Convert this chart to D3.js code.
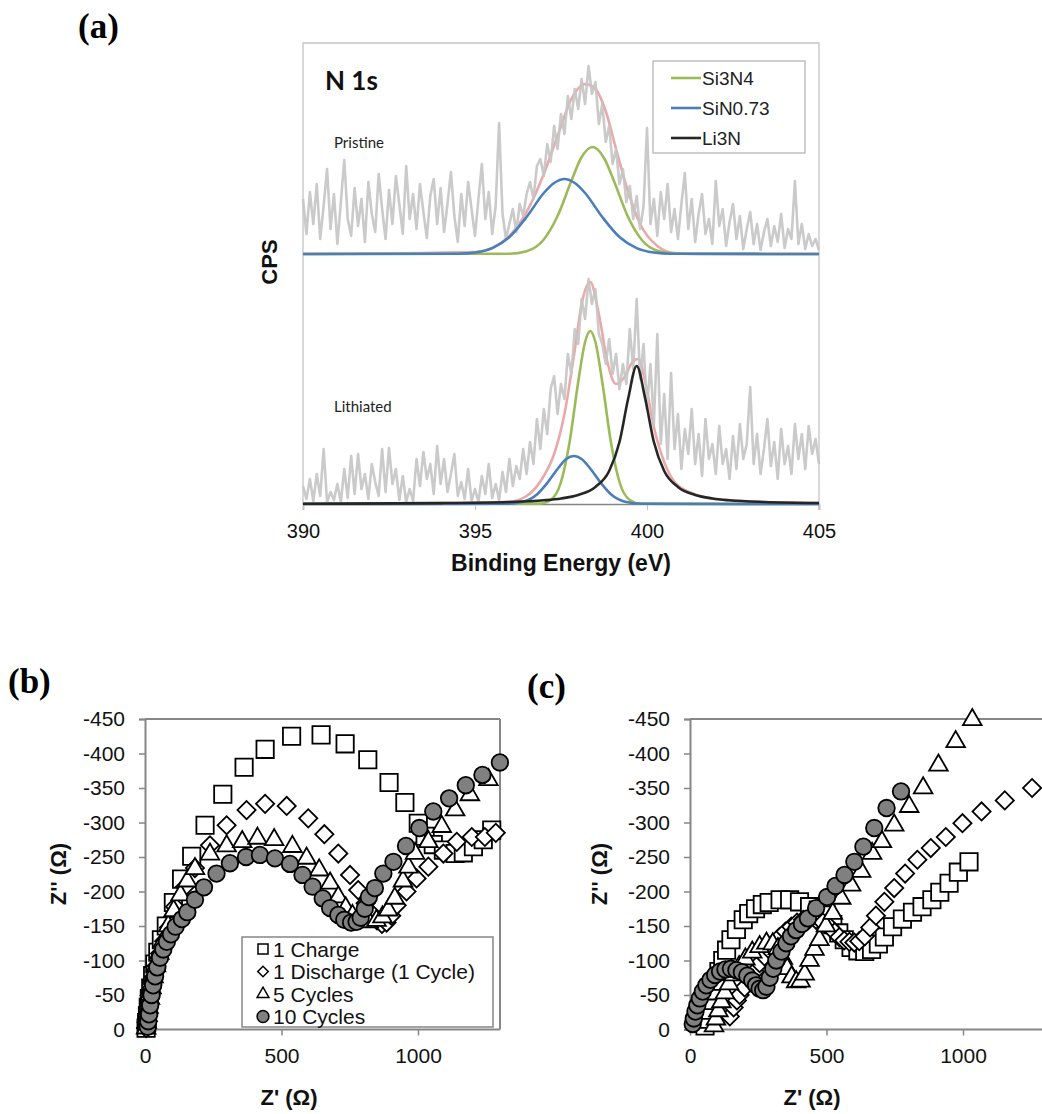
<!DOCTYPE html>
<html>
<head>
<meta charset="utf-8">
<script src="https://cdn.jsdelivr.net/npm/d3@7"></script>
<style>
  body { margin: 0; background: #fff; }
  svg { display: block; font-family: "Liberation Sans", Arial, sans-serif; }
</style>
</head>
<body>
<svg id="fig" width="1042" height="1114"></svg>
<script>
// ---------- panel (a): N 1s spectra ----------
const energyTicks = [390, 395, 400, 405];
const energyStart = 390;
const energyStep = 0.1;
const pristineOffset = 250;   // vertical offset of the pristine trace (CPS units)

// raw counts, 390.0 .. 405.0 eV every 0.1 eV (above each trace's baseline)
const pristineRaw = [
  55, 20, 62, 30, 70, 15, 48, 85, 25, 60,
  10, 52, 94, 35, 18, 66, 28, 55, 12, 72,
  40, 22, 80, 45, 15, 64, 30, 78, 50, 20,
  88, 35, 60, 25, 70, 42, 16, 58, 75, 30,
  66, 22, 50, 82, 38, 12, 60, 28, 72, 45,
  18, 55, 90, 35, 62, 20, 48, 131, 40, 15,
  30, 45, 22, 50, 38, 60, 72, 55, 88, 95,
  78, 110, 92, 128, 105, 140, 120, 158, 135, 165,
  145, 175, 150, 188, 160, 172, 130, 150, 112, 128,
  90, 105, 70, 85, 52, 68, 35, 58, 25, 48,
  126, 30, 55, 18, 62, 35, 70, 22, 45, 15,
  50, 81, 25, 55, 12, 40, 60, 20, 35, 10,
  73, 28, 45, 8, 32, 50, 15, 38, 5, 25,
  42, 10, 30, 4, 22, 35, 8, 28, 12, 40,
  6, 25, 15, 73, 10, 30, 5, 20, 8, 15,
  4
];
const lithiatedRaw = [
  18, 5, 25, 3, 30, 8, 55, 2, 12, 4,
  20, 2, 35, 6, 48, 10, 50, 15, 30, 5,
  40, 22, 8, 55, 12, 56, 20, 35, 4, 28,
  2, 15, 3, 45, 18, 52, 25, 40, 10, 58,
  20, 45, 12, 30, 50, 8, 22, 5, 35, 3,
  15, 2, 28, 10, 40, 6, 20, 4, 32, 12,
  45, 18, 38, 25, 55, 30, 62, 40, 85, 55,
  95, 70, 115, 128, 90, 120, 105, 150, 130, 175,
  160, 205, 185, 225, 200, 215, 170, 160, 140, 165,
  130, 150, 115, 140, 120, 175, 135, 205, 125, 160,
  95, 140, 80, 170, 60, 110, 45, 131, 55, 90,
  35, 75, 50, 95, 40, 70, 28, 85, 45, 60,
  30, 78, 40, 55, 25, 68, 35, 80, 45, 60,
  117, 40, 70, 30, 55, 85, 38, 62, 25, 75,
  40, 58, 30, 80, 45, 70, 35, 78, 50, 65,
  40
];

// fitted components [eV, CPS]
const pristineEnvelope = [[390,0],[395,2],[395.5,6],[396,18],[396.5,42],[397,80],[397.4,118],[397.8,155],[398.2,170],[398.5,165],[398.8,143],[399.1,105],[399.4,68],[399.8,30],[400.3,8],[400.8,1],[401.5,0],[405,0]];
const pristineSi3N4 = [[390,0],[396,0.3],[396.5,2.8],[397,14.5],[397.4,38],[397.8,73],[398.1,97],[398.42,107],[398.75,96],[399.05,72],[399.45,37],[399.85,14],[400.35,2.7],[400.85,0.3],[405,0]];
const pristineSiN = [[390,0],[394.5,0.3],[395,1.5],[395.5,5.9],[396,17],[396.5,37],[397,61],[397.3,71],[397.6,75],[397.9,71],[398.2,61],[398.7,37],[399.2,17],[399.7,5.9],[400.2,1.5],[400.7,0.3],[405,0]];

const lithiatedEnvelope = [[390,0.3],[394,0.9],[396,2.3],[396.5,8],[397,28],[397.3,50],[397.6,90],[397.9,154],[398.1,200],[398.35,222],[398.6,190],[398.85,142],[399.1,120],[399.35,127],[399.6,143],[399.75,145],[399.95,122],[400.2,77],[400.5,42],[400.8,22],[401.3,11],[402,5],[403,2.5],[405,1]];
const lithiatedSi3N4 = [[390,0],[396.9,0.4],[397.2,4],[397.5,22],[397.75,62],[398,122],[398.2,162],[398.35,173],[398.5,162],[398.7,122],[398.95,62],[399.2,22],[399.5,4],[399.8,0.4],[405,0]];
const lithiatedSiN = [[390,0],[395.9,0.2],[396.4,2.3],[396.8,9.5],[397.1,21],[397.4,35],[397.65,45],[397.88,48],[398.1,45],[398.36,35],[398.66,21],[398.96,9.5],[399.36,2.3],[399.86,0.2],[405,0]];
const lithiatedLi3N = [[390,0.3],[394,0.9],[396,2],[397,3.7],[397.5,5.5],[398,9],[398.5,17],[398.9,33],[399.2,62],[399.45,105],[399.7,138],[399.95,105],[400.2,62],[400.5,33],[400.9,17],[401.4,9],[401.9,5.5],[402.4,3.7],[403.4,2],[405,1]];

const legendA = [
  { label: 'Si3N4', color: '#9bbb59' },
  { label: 'SiN0.73', color: '#4a7ebb' },
  { label: 'Li3N', color: '#262626' }
];

// ---------- panels (b) and (c): impedance ----------
const zRealTicks = [0, 500, 1000];
const zImagTicks = [0, -50, -100, -150, -200, -250, -300, -350, -400, -450];
const seriesLabels = ['1 Charge', '1 Discharge (1 Cycle)', '5 Cycles', '10 Cycles'];

// [Z', Z''] in ohm
const chargeB = [[4,-2],[6,-10],[9,-20],[12,-32],[16,-45],[21,-60],[28,-78],[36,-95],[47,-112],[60,-130],[78,-150],[104,-184],[134,-218],[171,-251],[220,-296],[285,-341],[363,-380],[440,-406],[537,-425],[645,-427],[733,-414],[816,-391],[894,-358],[952,-329],[1001,-299],[1026,-280],[1056,-268],[1093,-260],[1136,-255],[1166,-256],[1203,-265],[1239,-275],[1270,-289]];
const dischargeB = [[4,-2],[6,-10],[9,-20],[13,-32],[18,-45],[24,-60],[32,-76],[42,-92],[55,-110],[70,-128],[88,-148],[110,-178],[147,-207],[183,-234],[238,-267],[299,-296],[372,-318],[440,-327],[519,-324],[598,-306],[657,-283],[708,-255],[751,-224],[781,-202],[808,-183],[830,-168],[850,-158],[868,-153],[885,-155],[902,-165],[922,-180],[958,-200],[995,-219],[1038,-236],[1093,-255],[1142,-272],[1197,-279],[1245,-279],[1285,-285]];
const cycles5B = [[4,-2],[6,-10],[9,-20],[13,-32],[18,-45],[24,-60],[31,-76],[40,-92],[52,-110],[66,-128],[85,-150],[105,-172],[130,-195],[155,-215],[183,-233],[238,-254],[299,-266],[356,-272],[412,-277],[473,-275],[540,-265],[592,-248],[638,-231],[678,-212],[708,-192],[735,-176],[760,-165],[790,-159],[820,-156],[848,-158],[870,-163],[891,-173],[915,-190],[945,-215],[965,-235],[989,-255],[1038,-272],[1087,-294],[1136,-318],[1190,-340],[1258,-362]];
const cycles10B = [[10,-4],[12,-12],[15,-22],[19,-35],[24,-50],[30,-64],[37,-77],[45,-90],[55,-104],[67,-116],[80,-127],[95,-138],[112,-149],[135,-160],[155,-170],[183,-188],[216,-206],[262,-226],[311,-241],[370,-250],[421,-253],[476,-248],[531,-240],[577,-224],[614,-207],[651,-190],[678,-176],[708,-166],[730,-159],[755,-155],[775,-156],[790,-162],[805,-175],[820,-192],[842,-205],[873,-226],[910,-243],[956,-266],[1005,-292],[1056,-316],[1114,-335],[1175,-354],[1236,-369],[1300,-387]];

const chargeC = [[55,-5],[62,-15],[70,-28],[78,-42],[86,-56],[95,-70],[106,-84],[120,-100],[134,-115],[150,-130],[170,-145],[195,-159],[215,-168],[240,-175],[265,-181],[290,-184],[330,-188],[365,-188],[401,-185],[438,-178],[470,-173],[499,-166],[523,-152],[545,-140],[565,-130],[590,-119],[615,-114],[640,-113],[665,-116],[690,-124],[712,-134],[742,-149],[778,-160],[815,-170],[850,-178],[886,-188],[915,-199],[949,-212],[983,-228],[1022,-243]];
const dischargeC = [[146,-19],[160,-32],[172,-42],[182,-50],[200,-61],[219,-72],[237,-84],[255,-96],[273,-106],[292,-115],[310,-125],[328,-134],[350,-142],[371,-149],[392,-155],[414,-159],[438,-160],[462,-159],[487,-155],[511,-149],[530,-141],[547,-134],[565,-129],[584,-127],[602,-126],[620,-128],[640,-135],[660,-148],[681,-165],[712,-185],[748,-205],[788,-226],[833,-246],[882,-263],[937,-279],[998,-299],[1068,-316],[1153,-332],[1253,-350]];
const cycles5C = [[88,-5],[95,-15],[104,-27],[115,-40],[128,-53],[143,-66],[160,-79],[180,-91],[203,-102],[228,-112],[255,-120],[280,-125],[303,-124],[322,-117],[340,-103],[356,-88],[372,-76],[389,-69],[405,-70],[420,-80],[438,-100],[456,-116],[474,-130],[498,-150],[523,-168],[554,-190],[590,-209],[627,-229],[667,-255],[703,-272],[748,-296],[803,-323],[854,-350],[910,-383],[973,-417],[1034,-449]];
const cycles10C = [[10,-8],[14,-16],[20,-26],[27,-35],[36,-45],[47,-55],[60,-64],[75,-72],[92,-79],[110,-84],[130,-87],[150,-88],[170,-86],[190,-83],[210,-78],[228,-71],[242,-64],[255,-59],[268,-57],[280,-62],[292,-75],[305,-88],[316,-100],[335,-113],[353,-125],[370,-135],[389,-144],[410,-153],[432,-161],[462,-176],[502,-192],[533,-208],[566,-224],[602,-243],[635,-265],[675,-292],[720,-321],[773,-345]];

// ---------- drawing ----------
const svg = d3.select('#fig');
const AXIS_GRAY = '#868686';

function panelLabel(x, y, text) {
  svg.append('text')
    .attr('x', x).attr('y', y)
    .attr('font-family', '"Liberation Serif", "Times New Roman", serif')
    .attr('font-weight', 'bold')
    .attr('font-size', 35)
    .text(text);
}

function drawXps() {
  const x = d3.scaleLinear().domain([390, 405]).range([303, 819]);
  const y = d3.scaleLinear().domain([0, 461]).range([504, 43]);
  const g = svg.append('g');

  // frame
  g.append('path')
    .attr('d', `M${x(390)},${y(0)}V${y(461)}H${x(405)}V${y(0) + 6}`)
    .attr('fill', 'none').attr('stroke', '#c4c4c4').attr('stroke-width', 1.3);

  const xAxis = g.append('g')
    .attr('transform', `translate(0,${y(0)})`)
    .call(d3.axisBottom(x).tickValues(energyTicks).tickSize(6).tickPadding(14).tickFormat(d3.format('d')));
  xAxis.select('.domain').attr('stroke', AXIS_GRAY).attr('stroke-width', 1.5);
  xAxis.selectAll('.tick line').attr('stroke', '#c4c4c4');
  xAxis.selectAll('.tick text')
    .attr('font-family', '"Liberation Sans", Arial, sans-serif')
    .attr('font-size', 20).attr('fill', '#111');

  const line = d3.line().x(d => x(d[0])).y(d => y(d[1])).curve(d3.curveMonotoneX);
  const rawLine = d3.line().x((d, i) => x(energyStart + i * energyStep)).y(d => y(d));

  const shift = (arr, off) => arr.map(d => [d[0], d[1] + off]);

  [shift(pristineEnvelope, pristineOffset), lithiatedEnvelope].forEach(data => {
    g.append('path').datum(data).attr('d', line)
      .attr('fill', 'none').attr('stroke', '#eaa9a9').attr('stroke-width', 2.6);
  });

  [pristineRaw.map(v => v + pristineOffset), lithiatedRaw].forEach(data => {
    g.append('path').datum(data).attr('d', rawLine)
      .attr('fill', 'none').attr('stroke', '#c6c6c6').attr('stroke-width', 2.6)
      .attr('stroke-linejoin', 'round').attr('opacity', 0.92);
  });

  const fits = [
    { data: shift(pristineSi3N4, pristineOffset), color: legendA[0].color },
    { data: shift(pristineSiN, pristineOffset), color: legendA[1].color },
    { data: lithiatedSi3N4, color: legendA[0].color },
    { data: lithiatedSiN, color: legendA[1].color },
    { data: lithiatedLi3N, color: legendA[2].color }
  ];
  fits.forEach(f => {
    g.append('path').datum(f.data).attr('d', line)
      .attr('fill', 'none').attr('stroke', f.color).attr('stroke-width', 2.6);
  });

  // texts
  g.append('text').attr('x', 325).attr('y', 90)
    .attr('font-family', 'Lato, "Open Sans", sans-serif').attr('font-weight', 'bold')
    .attr('font-size', 26).attr('fill', '#111').text('N 1s');
  g.append('text').attr('x', 334).attr('y', 148)
    .attr('font-family', 'Lato, "Open Sans", sans-serif')
    .attr('font-size', 15).attr('fill', '#222').text('Pristine');
  g.append('text').attr('x', 334).attr('y', 412)
    .attr('font-family', 'Lato, "Open Sans", sans-serif')
    .attr('font-size', 15).attr('fill', '#222').text('Lithiated');

  g.append('text')
    .attr('x', (x(390) + x(405)) / 2).attr('y', 571)
    .attr('text-anchor', 'middle').attr('font-weight', 'bold').attr('font-size', 23)
    .attr('fill', '#111').text('Binding Energy (eV)');
  g.append('text')
    .attr('transform', 'translate(277,262) rotate(-90)')
    .attr('text-anchor', 'middle').attr('font-weight', 'bold').attr('font-size', 22)
    .attr('fill', '#111').text('CPS');

  // legend
  const lg = g.append('g').attr('transform', 'translate(653,61)');
  lg.append('rect').attr('width', 152).attr('height', 92)
    .attr('fill', '#fff').attr('stroke', '#b0b0b0').attr('stroke-width', 1.2);
  const items = lg.selectAll('.li').data(legendA).join('g')
    .attr('transform', (d, i) => `translate(0,${17 + i * 30})`);
  items.append('line').attr('x1', 18).attr('x2', 48)
    .attr('stroke', d => d.color).attr('stroke-width', 2.6);
  items.append('text').attr('x', 49).attr('y', 7)
    .attr('font-size', 19).attr('fill', '#222').text(d => d.label);
}

function symbolPath(kind, size) {
  const types = {
    square: d3.symbolSquare,
    diamond: d3.symbolSquare,
    triangle: d3.symbolTriangle,
    circle: d3.symbolCircle
  };
  return d3.symbol().type(types[kind]).size(size)();
}

const markerStyles = [
  { kind: 'square', size: 300, fill: '#fff' },
  { kind: 'diamond', size: 165, fill: '#fff' },
  { kind: 'triangle', size: 150, fill: '#fff' },
  { kind: 'circle', size: 215, fill: '#808080' }
];

function drawNyquist(opts) {
  const { left, right, seriesList, legend, yTitleX, xTitleX } = opts;
  const top = 719, bottom = 1029.5;
  const x = d3.scaleLinear().domain([0, 1300]).range([left, left + (1300 / 500) * 136.5]);
  const y = d3.scaleLinear().domain([0, -450]).range([bottom, top]);
  const g = svg.append('g');

  // frame lines (top / right)
  g.append('line').attr('x1', left).attr('x2', right).attr('y1', top).attr('y2', top)
    .attr('stroke', AXIS_GRAY).attr('stroke-width', 2);
  if (right < 1042) {
    g.append('line').attr('x1', right).attr('x2', right).attr('y1', top).attr('y2', bottom)
      .attr('stroke', AXIS_GRAY).attr('stroke-width', 2);
  }

  const yAxis = g.append('g').attr('transform', `translate(${left},0)`)
    .call(d3.axisLeft(y).tickValues(zImagTicks).tickSize(6).tickPadding(14).tickFormat(d => String(d)));
  const xAxis = g.append('g').attr('transform', `translate(0,${bottom})`)
    .call(d3.axisBottom(x).tickValues(zRealTicks).tickSize(6).tickPadding(13).tickFormat(d => String(d)));
  xAxis.select('.domain').attr('d', `M${left},0H${right}`);
  [xAxis, yAxis].forEach(a => {
    a.select('.domain').attr('stroke', AXIS_GRAY).attr('stroke-width', 2);
    a.selectAll('.tick line').attr('stroke', AXIS_GRAY).attr('stroke-width', 1.5);
    a.selectAll('.tick text').attr('font-size', 21).attr('fill', '#111');
  });

  seriesList.forEach((data, i) => {
    const st = markerStyles[i];
    const p = symbolPath(st.kind, st.size);
    g.append('g').selectAll('path').data(data).join('path')
      .attr('d', p)
      .attr('transform', d => `translate(${x(d[0])},${y(d[1])})` + (st.kind === 'diamond' ? ' rotate(45)' : ''))
      .attr('fill', st.fill).attr('stroke', '#000').attr('stroke-width', 1.8);
  });

  g.append('text').attr('x', xTitleX).attr('y', 1105)
    .attr('text-anchor', 'middle').attr('font-weight', 'bold').attr('font-size', 22)
    .attr('fill', '#111').text('Z\' (\u03A9)');
  g.append('text').attr('transform', `translate(${yTitleX},874) rotate(-90)`)
    .attr('text-anchor', 'middle').attr('font-weight', 'bold').attr('font-size', 22)
    .attr('fill', '#111').text('Z\'\' (\u03A9)');

  if (legend) {
    const lg = g.append('g').attr('transform', 'translate(242,937)');
    lg.append('rect').attr('width', 251).attr('height', 90)
      .attr('fill', '#fff').attr('stroke', AXIS_GRAY).attr('stroke-width', 1.5);
    const legendSizes = [100, 55, 60, 110];
    const it = lg.selectAll('.it').data(seriesLabels).join('g')
      .attr('transform', (d, i) => `translate(0,${12 + i * 22.5})`);
    it.append('path')
      .attr('d', (d, i) => symbolPath(markerStyles[i].kind, legendSizes[i]))
      .attr('transform', (d, i) => `translate(21,0)` + (markerStyles[i].kind === 'diamond' ? ' rotate(45)' : ''))
      .attr('fill', (d, i) => markerStyles[i].fill).attr('stroke', '#000').attr('stroke-width', 1.5);
    it.append('text').attr('x', 31).attr('y', 7.5)
      .attr('font-size', 21).attr('fill', '#111').text(d => d);
  }
}

drawXps();
drawNyquist({ left: 145, right: 500, seriesList: [chargeB, dischargeB, cycles5B, cycles10B], legend: true, yTitleX: 66, xTitleX: 289 });
drawNyquist({ left: 690, right: 1046, seriesList: [chargeC, dischargeC, cycles5C, cycles10C], legend: false, yTitleX: 607, xTitleX: 812 });

panelLabel(78, 38, '(a)');
panelLabel(8, 693, '(b)');
panelLabel(527, 698, '(c)');
</script>
</body>
</html>
